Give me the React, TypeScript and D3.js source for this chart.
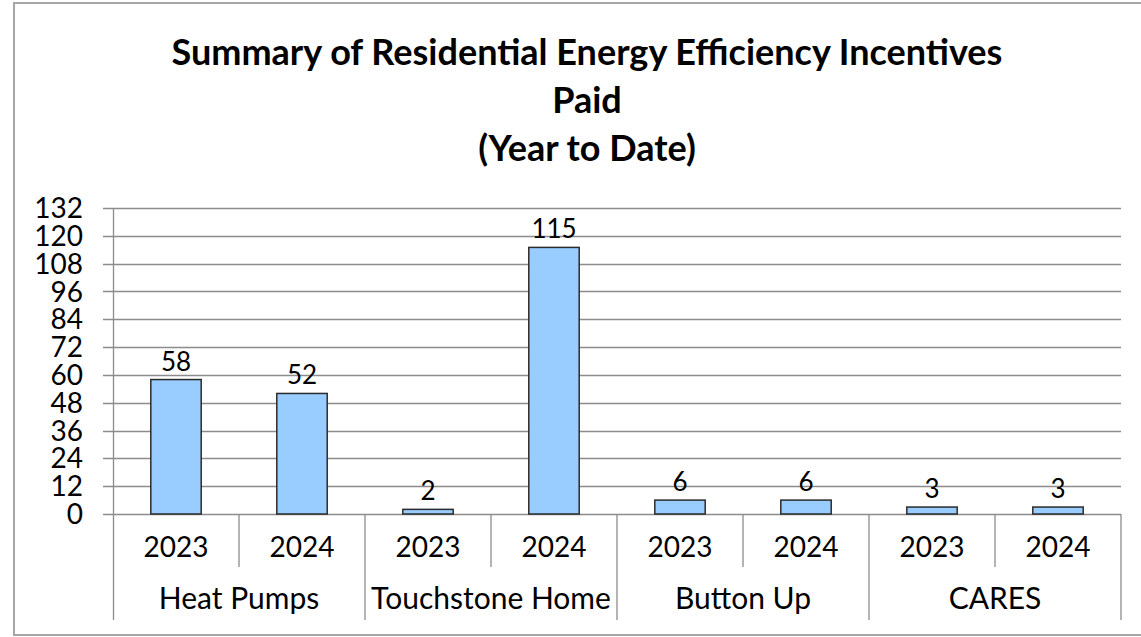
import React from "react";
import * as d3 from "d3";

const categories = ["Heat Pumps", "Touchstone Home", "Button Up", "CARES"];
const years = ["2023", "2024"];
const values = [58, 52, 2, 115, 6, 6, 3, 3];
const yTicks = [0, 12, 24, 36, 48, 60, 72, 84, 96, 108, 120, 132];
const titleLines = ["Summary of Residential Energy Efficiency Incentives", "Paid", "(Year to Date)"];

const W = 1141;
const H = 637;
const FONT = "Lato, 'Open Sans', sans-serif";

export default function App() {
  const left = 113;
  const right = 1121;
  const top = 208;
  const bottom = 514;
  const items = values.map((v, i) => ({ v, i, year: years[i % 2], cat: categories[Math.floor(i / 2)] }));
  const x = d3.scaleBand<number>().domain(items.map((d) => d.i)).range([left, right]).paddingInner(0.6).paddingOuter(0.3);
  const step = (right - left) / items.length;
  const y = d3.scaleLinear().domain([0, 132]).range([bottom, top]);
  const gridColor = "#8c8c8c";

  return (
    <svg width={W} height={H} style={{ position: "absolute", left: 0, top: 0, background: "#fff" }} fontFamily={FONT}>
      <rect x={0} y={0} width={W} height={H} fill="#fff" />
      <rect x={14} y={3} width={W + 10} height={632} fill="none" stroke="#a6a6a6" strokeWidth={2} />
      {titleLines.map((t, k) => (
        <text key={k} x={587} y={65 + k * 48} textAnchor="middle" fontWeight="bold" fontSize={36} fill="#000">
          {t}
        </text>
      ))}
      {yTicks.map((t) => (
        <g key={t}>
          <line x1={103} x2={right} y1={Math.round(y(t)) + 0.5} y2={Math.round(y(t)) + 0.5} stroke={gridColor} strokeWidth={1.3} />
          <text x={83} y={y(t)} dy="0.36em" textAnchor="end" fontSize={28} fill="#000">
            {t}
          </text>
        </g>
      ))}
      <line x1={left + 0.5} x2={left + 0.5} y1={top} y2={620} stroke={gridColor} strokeWidth={1.3} />
      {d3.range(1, items.length + 1).map((k) => (
        <line
          key={k}
          x1={left + step * k}
          x2={left + step * k}
          y1={bottom}
          y2={k % 2 === 0 ? 620 : 567}
          stroke={gridColor}
          strokeWidth={1.3}
        />
      ))}
      {items.map((d) => (
        <g key={d.i}>
          <rect
            x={x(d.i)!}
            y={y(d.v)}
            width={x.bandwidth()}
            height={bottom - y(d.v)}
            fill="#99CCFF"
            stroke="#2b2b2b"
            strokeWidth={1.5}
          />
          <text x={x(d.i)! + x.bandwidth() / 2} y={y(d.v) - 9} textAnchor="middle" fontSize={26} fill="#000">
            {d.v}
          </text>
          <text x={x(d.i)! + x.bandwidth() / 2} y={547} dy="0.36em" textAnchor="middle" fontSize={28} fill="#000">
            {d.year}
          </text>
        </g>
      ))}
      {categories.map((c, k) => (
        <text key={c} x={left + step * (2 * k + 1)} y={598} dy="0.36em" textAnchor="middle" fontSize={30} fill="#000">
          {c}
        </text>
      ))}
    </svg>
  );
}
